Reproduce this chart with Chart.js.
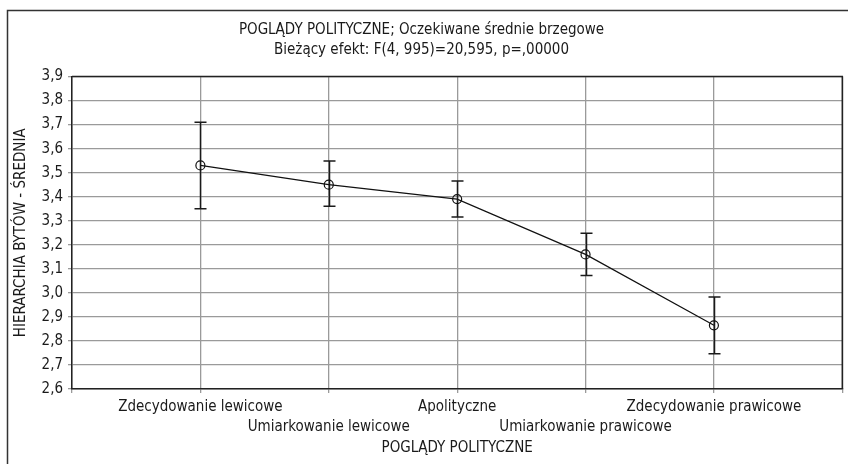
<!DOCTYPE html>
<html>
<head>
<meta charset="utf-8">
<script src="https://cdn.jsdelivr.net/npm/chart.js@4"></script>
<style>
  html, body { margin: 0; padding: 0; background: #fff; }
  #wrap { width: 848px; height: 464px; }
</style>
</head>
<body>
<div id="wrap"><canvas id="chart"></canvas></div>
<script>
const categories = ['Zdecydowanie lewicowe', 'Umiarkowanie lewicowe', 'Apolityczne', 'Umiarkowanie prawicowe', 'Zdecydowanie prawicowe'];
const positions = [1, 2, 3, 4, 5];
const means = [3.53, 3.45, 3.39, 3.16, 2.865];
const ciLow = [3.35, 3.36, 3.316, 3.072, 2.747];
const ciHigh = [3.71, 3.548, 3.465, 3.248, 2.983];
const yTicks = [2.6, 3.9];

const fontFamily = '"Liberation Sans Narrow", "DejaVu Sans Condensed", "Open Sans", sans-serif';
const textColor = '#1a1a1a';

// whiskers and frame lines
const errorBars = {
    id: 'errorBars',
    beforeDatasetsDraw(chart) {
        const ctx = chart.ctx;
        const x = chart.scales.x;
        const y = chart.scales.y;
        ctx.save();
        ctx.strokeStyle = '#1a1a1a';
        ctx.lineWidth = 1.5;
        positions.forEach((p, i) => {
            const px = Math.round(x.getPixelForValue(p)) + 0.5;
            const top = y.getPixelForValue(ciHigh[i]);
            const bottom = y.getPixelForValue(ciLow[i]);
            ctx.beginPath();
            ctx.moveTo(px, top);
            ctx.lineTo(px, bottom);
            ctx.moveTo(px - 6, top);
            ctx.lineTo(px + 6, top);
            ctx.moveTo(px - 6, bottom);
            ctx.lineTo(px + 6, bottom);
            ctx.stroke();
        });
        ctx.restore();
    },
    afterDraw(chart) {
        const ctx = chart.ctx;
        const a = chart.chartArea;
        ctx.save();
        ctx.strokeStyle = '#222';
        ctx.lineWidth = 1.5;
        ctx.beginPath();
        ctx.moveTo(a.left, a.top);
        ctx.lineTo(a.right, a.top);
        ctx.lineTo(a.right, a.bottom);
        ctx.stroke();
        ctx.strokeStyle = '#333';
        ctx.lineWidth = 1.5;
        ctx.beginPath();
        ctx.moveTo(7.5, chart.height);
        ctx.lineTo(7.5, 10.5);
        ctx.lineTo(chart.width, 10.5);
        ctx.stroke();
        ctx.restore();
    }
};

new Chart(document.getElementById('chart'), {
    type: 'line',
    data: {
        datasets: [{
            data: positions.map((p, i) => ({x: p, y: means[i]})),
            borderColor: '#111',
            borderWidth: 1.2,
            pointRadius: 4.5,
            pointBorderWidth: 1.2,
            pointBorderColor: '#111',
            pointBackgroundColor: 'rgba(0,0,0,0)',
            tension: 0
        }]
    },
    options: {
        responsive: true,
        maintainAspectRatio: false,
        animation: false,
        layout: {padding: {left: 0, right: 5, top: 0, bottom: 0}},
        plugins: {
            legend: {display: false},
            tooltip: {enabled: false},
            title: {
                display: true,
                text: ['POGLĄDY POLITYCZNE; Oczekiwane średnie brzegowe', 'Bieżący efekt: F(4, 995)=20,595, p=,00000'],
                color: textColor,
                font: {family: fontFamily, size: 15, weight: 'normal', lineHeight: 1.35},
                padding: {top: 20, bottom: 16}
            }
        },
        scales: {
            x: {
                type: 'linear',
                min: 0,
                max: 6,
                afterFit(scale) { scale.height = 75; },
                afterBuildTicks(scale) {
                    scale.ticks = [0, ...positions, 6].map(v => ({value: v}));
                },
                ticks: {
                    autoSkip: false,
                    maxRotation: 0,
                    color: textColor,
                    padding: 5,
                    font: {family: fontFamily, size: 15, lineHeight: 1.28},
                    callback(v) {
                        const i = positions.indexOf(v);
                        if (i < 0) return '';
                        return i % 2 === 0 ? [categories[i]] : ['', categories[i]];
                    }
                },
                grid: {color: '#9a9a9a', lineWidth: 1.3, tickLength: 4},
                border: {color: '#222', width: 1.5},
                title: {
                    display: true,
                    text: 'POGLĄDY POLITYCZNE',
                    color: textColor,
                    font: {family: fontFamily, size: 15},
                    padding: {top: 0, bottom: 7}
                }
            },
            y: {
                min: yTicks[0],
                max: yTicks[1],
                afterFit(scale) { scale.width = 72; },
                ticks: {
                    stepSize: 0.1,
                    color: textColor,
                    padding: 5,
                    font: {family: fontFamily, size: 15},
                    callback: v => v.toFixed(1).replace('.', ',')
                },
                grid: {color: '#9a9a9a', lineWidth: 1.3, tickLength: 4},
                border: {color: '#222', width: 1.5},
                title: {
                    display: true,
                    text: 'HIERARCHIA BYTÓW - ŚREDNIA',
                    color: textColor,
                    font: {family: fontFamily, size: 15},
                    padding: {top: 12, bottom: 0}
                }
            }
        }
    },
    plugins: [errorBars]
});
</script>
</body>
</html>
